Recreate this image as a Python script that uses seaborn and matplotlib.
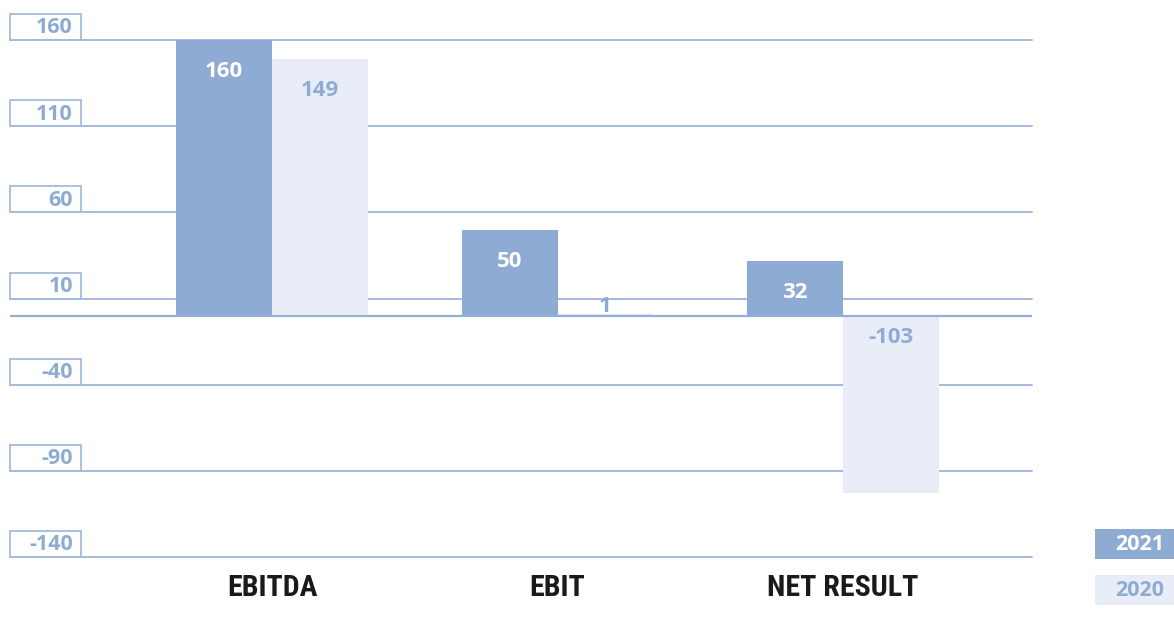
import matplotlib
matplotlib.use("Agg")
import matplotlib.pyplot as plt
import matplotlib.transforms as mtransforms
from matplotlib.patches import Rectangle
import seaborn as sns
import pandas as pd

# Figures (EUR m)
categories = ["EBITDA", "EBIT", "NET RESULT"]
years = ["2021", "2020"]
values_2021 = [160, 50, 32]
values_2020 = [149, 1, -103]
y_ticks = [160, 110, 60, 10, -40, -90, -140]

DARK = "#8eacd3"
LIGHT = "#e8edf7"
GRID = "#a5bbdd"

df = pd.DataFrame({
    "category": categories * 2,
    "year": [years[0]] * 3 + [years[1]] * 3,
    "value": values_2021 + values_2020,
})

sns.set_theme(style="white")
plt.rcParams["font.family"] = ["Open Sans", "DejaVu Sans"]

fig = plt.figure(figsize=(11.74, 6.29), dpi=100)
ax = fig.add_axes([10 / 1174, 72 / 629, 1022 / 1174, 517 / 629])

sns.barplot(data=df, x="category", y="value", hue="year", order=categories,
            hue_order=years, palette=[DARK, LIGHT], width=0.67, saturation=1,
            legend=False, ax=ax, zorder=3, linewidth=0)

ax.set_xlim(-0.918, 2.662)
ax.set_ylim(-140, 160)
ax.set_xlabel("")
ax.set_ylabel("")
for s in ax.spines.values():
    s.set_visible(False)

# horizontal guide lines and the zero line
for t in y_ticks:
    ax.axhline(t, color=GRID, lw=1.4, zorder=1, clip_on=False)
ax.axhline(0, color="#93afd6", lw=1.6, zorder=4)
ax.set_yticks([])

ax.tick_params(axis="x", length=0, pad=12)
for lab in ax.get_xticklabels():
    lab.set_fontfamily(["Roboto Condensed", "Open Sans Condensed",
                        "Liberation Sans Narrow", "Roboto", "DejaVu Sans"])
    lab.set_fontweight("bold")
    lab.set_fontsize(21.5)
    lab.set_color("#1a1a1a")

# boxed value labels on the left, resting on each guide line
trans = mtransforms.blended_transform_factory(ax.transAxes, ax.transData)
box_w = 71 / 1022
box_h = 15
for t in y_ticks:
    ax.add_patch(Rectangle((0, t), box_w, box_h, transform=trans, fill=False,
                           edgecolor=GRID, lw=1.3, clip_on=False, zorder=5))
    ax.text(63 / 1022, t + box_h / 2 - 0.5, str(t), transform=trans,
            ha="right", va="center", fontsize=15.5, fontweight="bold",
            color=DARK, zorder=6)

# value labels inside bars
offset = 0.67 / 4
for i, cat in enumerate(categories):
    for j, (vals, col) in enumerate([(values_2021, "white"), (values_2020, DARK)]):
        v = vals[i]
        x = i - offset if j == 0 else i + offset
        if v > 20:
            y = v - 18.5
        elif v >= 0:
            y = v + 4.5
        else:
            y = -12.8
        ax.text(x, y, str(v), ha="center", va="center", fontsize=16,
                fontweight="bold", color=col, zorder=6)

# legend swatches at the lower right
for (label, fc, tc, y0) in [(years[0], DARK, "white", 70 / 629),
                             (years[1], LIGHT, DARK, 24 / 629)]:
    fig.patches.append(Rectangle((1095 / 1174, y0), 79 / 1174, 30 / 629,
                                 transform=fig.transFigure, facecolor=fc,
                                 edgecolor="none"))
    fig.text(1164 / 1174, y0 + 14 / 629, label, ha="right", va="center",
             fontsize=15.5, fontweight="bold", color=tc)

fig.savefig("out.png", dpi=100)
